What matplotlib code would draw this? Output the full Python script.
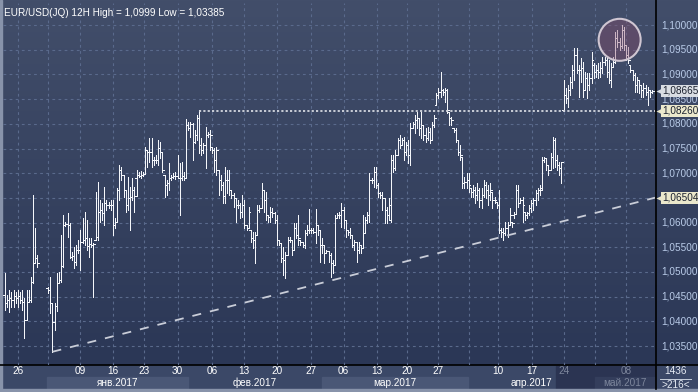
import numpy as np
import matplotlib
matplotlib.use("Agg")
import matplotlib.pyplot as plt
from matplotlib.patches import Rectangle, Ellipse

plt.rcParams['font.family'] = ['Liberation Sans', 'DejaVu Sans']
nan = np.nan

title = "EUR/USD(JQ) 12H High = 1,0999 Low = 1,03385"

opens = [
1.0454,1.0438,1.0444,1.0448,1.0444,1.0452,1.0448,1.0452,1.0444,1.0440,
1.0403,1.0440,1.0444,1.0480,1.0519,1.0529,nan,nan,nan,nan,
1.0468,1.0464,1.0438,1.0399,1.0432,1.0478,1.0484,1.0513,1.0596,1.0598,
1.0596,1.0531,1.0533,1.0521,1.0545,1.0545,1.0561,1.0565,1.0569,1.0553,
1.0557,1.0555,1.0565,1.0571,1.0622,1.0626,1.0620,1.0640,1.0636,1.0636,
1.0636,1.0596,1.0602,1.0666,1.0707,1.0697,1.0666,1.0636,1.0650,1.0652,
1.0666,1.0691,1.0697,1.0695,1.0697,1.0699,1.0747,1.0743,1.0743,1.0727,
1.0727,1.0727,1.0751,1.0743,1.0697,1.0677,1.0681,1.0691,1.0693,1.0695,
1.0695,1.0691,1.0691,1.0695,1.0691,1.0798,1.0792,1.0800,1.0764,1.0778,
1.0812,1.0758,1.0747,1.0758,1.0778,1.0780,1.0754,1.0747,1.0727,1.0707,
1.0687,1.0677,1.0654,1.0687,1.0687,1.0666,1.0656,1.0650,1.0636,1.0636,
1.0622,1.0636,1.0596,1.0590,1.0586,1.0569,1.0565,1.0575,1.0626,1.0630,
1.0666,1.0646,1.0616,1.0612,1.0622,1.0620,1.0606,1.0565,1.0559,1.0529,
1.0525,1.0535,1.0565,1.0565,1.0545,1.0590,1.0575,1.0565,1.0561,1.0555,
1.0579,1.0586,1.0586,1.0586,1.0581,1.0596,1.0586,1.0555,1.0555,1.0539,
1.0543,1.0535,1.0519,1.0515,1.0610,1.0616,1.0616,1.0626,1.0606,1.0586,
1.0581,1.0575,1.0555,1.0561,1.0545,1.0555,1.0549,1.0579,1.0606,1.0616,
1.0687,1.0687,1.0703,1.0677,1.0660,1.0656,1.0650,1.0626,1.0616,1.0606,
1.0727,1.0711,1.0737,1.0768,1.0758,1.0768,1.0743,1.0758,1.0737,1.0792,
1.0800,1.0808,1.0812,1.0792,1.0798,1.0778,1.0772,1.0784,1.0768,1.0798,
1.0838,1.0859,1.0865,1.0869,1.0865,1.0869,1.0824,1.0812,1.0792,1.0788,
1.0768,1.0743,1.0733,1.0681,1.0683,1.0687,1.0670,1.0662,1.0666,1.0656,
1.0666,1.0646,1.0656,1.0677,1.0666,1.0656,1.0662,1.0646,1.0642,1.0636,
1.0586,1.0581,1.0579,1.0590,1.0596,1.0602,1.0616,1.0618,1.0666,1.0640,
1.0646,1.0622,1.0616,1.0620,1.0630,1.0640,1.0646,1.0660,1.0666,1.0666,
1.0727,1.0731,1.0717,1.0707,1.0733,1.0768,1.0727,1.0717,1.0711,1.0828,
1.0859,1.0853,1.0869,1.0885,1.0909,1.0940,1.0909,1.0909,1.0913,1.0869,
1.0893,1.0879,1.0893,1.0919,1.0905,1.0909,1.0905,1.0913,1.0926,1.0930,
1.0905,1.0889,1.0915,1.0926,1.0974,1.0966,1.0958,1.0990,1.0960,1.0940,
1.0919,1.0909,1.0899,1.0879,1.0889,1.0879,1.0869,1.0873,1.0865,1.0869,
1.0865]

highs = [
1.0498,1.0454,1.0464,1.0460,1.0464,1.0460,1.0464,1.0460,1.0464,1.0448,
1.0464,1.0464,1.0490,1.0656,1.0590,1.0535,nan,nan,nan,nan,
1.0470,1.0490,1.0438,1.0438,1.0498,1.0500,1.0575,1.0616,1.0602,1.0620,
1.0600,1.0541,1.0551,1.0555,1.0565,1.0586,1.0610,1.0622,1.0606,1.0569,
1.0569,1.0559,1.0662,1.0683,1.0646,1.0640,1.0673,1.0646,1.0642,1.0645,
1.0646,1.0610,1.0670,1.0717,1.0713,1.0697,1.0666,1.0693,1.0673,1.0691,
1.0673,1.0707,1.0703,1.0705,1.0703,1.0754,1.0747,1.0772,1.0772,1.0733,
1.0737,1.0768,1.0764,1.0743,1.0697,1.0687,1.0721,1.0697,1.0701,1.0702,
1.0737,1.0721,1.0723,1.0703,1.0810,1.0804,1.0804,1.0802,1.0788,1.0818,
1.0828,1.0772,1.0762,1.0794,1.0784,1.0788,1.0754,1.0751,1.0754,1.0707,
1.0697,1.0683,1.0713,1.0707,1.0707,1.0666,1.0660,1.0650,1.0646,1.0640,
1.0656,1.0646,1.0596,1.0632,1.0586,1.0581,1.0581,1.0636,1.0636,1.0681,
1.0666,1.0662,1.0616,1.0632,1.0630,1.0622,1.0616,1.0565,1.0559,1.0551,
1.0541,1.0571,1.0571,1.0565,1.0600,1.0600,1.0616,1.0565,1.0561,1.0586,
1.0596,1.0628,1.0590,1.0590,1.0628,1.0596,1.0586,1.0569,1.0555,1.0545,
1.0543,1.0539,1.0525,1.0616,1.0620,1.0622,1.0640,1.0632,1.0606,1.0586,
1.0590,1.0575,1.0565,1.0561,1.0561,1.0555,1.0616,1.0612,1.0622,1.0701,
1.0691,1.0713,1.0713,1.0681,1.0662,1.0662,1.0650,1.0632,1.0650,1.0737,
1.0737,1.0747,1.0772,1.0778,1.0772,1.0774,1.0764,1.0768,1.0802,1.0804,
1.0818,1.0824,1.0812,1.0824,1.0798,1.0792,1.0794,1.0792,1.0804,1.0818,
1.0863,1.0873,1.0905,1.0871,1.0873,1.0871,1.0824,1.0814,1.0792,1.0792,
1.0768,1.0758,1.0733,1.0693,1.0701,1.0701,1.0670,1.0677,1.0673,1.0681,
1.0670,1.0670,1.0687,1.0683,1.0677,1.0681,1.0662,1.0652,1.0642,1.0666,
1.0590,1.0590,1.0602,1.0602,1.0630,1.0602,1.0622,1.0677,1.0677,1.0650,
1.0652,1.0622,1.0622,1.0636,1.0646,1.0650,1.0666,1.0670,1.0677,1.0733,
1.0733,1.0731,1.0717,1.0741,1.0774,1.0772,1.0737,1.0723,1.0723,1.0889,
1.0873,1.0879,1.0895,1.0919,1.0954,1.0954,1.0919,1.0934,1.0926,1.0905,
1.0903,1.0903,1.0946,1.0924,1.0919,1.0924,1.0926,1.0936,1.0936,1.0934,
1.0930,1.0924,1.0936,1.0986,1.0990,1.0974,1.0999,1.0996,1.0960,1.0956,
1.0919,1.0909,1.0903,1.0895,1.0889,1.0879,1.0883,1.0879,1.0875,1.0869,
1.0869]

lows = [
1.0424,1.0430,1.0420,1.0430,1.0430,1.0438,1.0430,1.0438,1.0424,1.0367,
1.0403,1.0440,1.0440,1.0478,1.0519,1.0511,nan,nan,nan,nan,
1.0458,1.0418,1.03385,1.0383,1.0422,1.0478,1.0480,1.0511,1.0594,1.0571,
1.0529,1.0525,1.0509,1.0515,1.0538,1.0505,1.0559,1.0555,1.0545,1.0531,
1.0551,1.0450,1.0565,1.0565,1.0602,1.0606,1.0596,1.0626,1.0630,1.0625,
1.0575,1.0590,1.0602,1.0646,1.0687,1.0652,1.0622,1.0626,1.0586,1.0646,
1.0622,1.0654,1.0693,1.0690,1.0695,1.0699,1.0713,1.0723,1.0713,1.0717,
1.0721,1.0717,1.0731,1.0703,1.0652,1.0656,1.0666,1.0687,1.0691,1.0688,
1.0691,1.0616,1.0687,1.0687,1.0691,1.0788,1.0774,1.0727,1.0762,1.0768,
1.0741,1.0737,1.0741,1.0711,1.0774,1.0747,1.0741,1.0703,1.0697,1.0656,
1.0666,1.0640,1.0640,1.0660,1.0656,1.0650,1.0632,1.0602,1.0630,1.0610,
1.0612,1.0590,1.0586,1.0590,1.0561,1.0549,1.0519,1.0575,1.0622,1.0630,
1.0622,1.0606,1.0602,1.0602,1.0612,1.0600,1.0555,1.0555,1.0521,1.0494,
1.0488,1.0535,1.0561,1.0535,1.0545,1.0569,1.0555,1.0555,1.0551,1.0549,
1.0575,1.0579,1.0579,1.0579,1.0559,1.0575,1.0521,1.0539,1.0519,1.0539,
1.0521,1.0490,1.0498,1.0515,1.0610,1.0610,1.0592,1.0590,1.0571,1.0575,
1.0569,1.0551,1.0545,1.0521,1.0539,1.0539,1.0549,1.0579,1.0600,1.0602,
1.0681,1.0673,1.0670,1.0652,1.0650,1.0626,1.0600,1.0600,1.0606,1.0602,
1.0703,1.0707,1.0737,1.0751,1.0758,1.0727,1.0737,1.0721,1.0717,1.0792,
1.0782,1.0792,1.0778,1.0772,1.0768,1.0764,1.0768,1.0762,1.0768,1.0794,
1.0838,1.0853,1.0855,1.0859,1.0845,1.0822,1.0798,1.0798,1.0784,1.0764,
1.0737,1.0727,1.0670,1.0670,1.0670,1.0662,1.0652,1.0652,1.0640,1.0646,
1.0632,1.0630,1.0652,1.0650,1.0636,1.0646,1.0630,1.0640,1.0630,1.0579,
1.0571,1.0565,1.0575,1.0571,1.0596,1.0592,1.0610,1.0618,1.0632,1.0640,
1.0602,1.0606,1.0610,1.0616,1.0622,1.0626,1.0636,1.0646,1.0656,1.0666,
1.0723,1.0707,1.0697,1.0707,1.0711,1.0713,1.0707,1.0697,1.0681,1.0826,
1.0843,1.0834,1.0859,1.0873,1.0889,1.0903,1.0855,1.0885,1.0855,1.0869,
1.0853,1.0869,1.0883,1.0893,1.0895,1.0893,1.0895,1.0903,1.0919,1.0895,
1.0883,1.0875,1.0915,1.0924,1.0956,1.0950,1.0954,1.0950,1.0930,1.0924,
1.0905,1.0889,1.0865,1.0865,1.0863,1.0855,1.0855,1.0859,1.0838,1.0855,
1.0863]

closes = [
1.0438,1.0444,1.0448,1.0444,1.0452,1.0448,1.0452,1.0444,1.0440,1.0403,
1.0440,1.0444,1.0480,1.0519,1.0529,1.0519,nan,nan,nan,nan,
1.0464,1.0438,1.0399,1.0432,1.0478,1.0484,1.0513,1.0596,1.0598,1.0596,
1.0531,1.0533,1.0521,1.0545,1.0545,1.0561,1.0565,1.0569,1.0553,1.0557,
1.0555,1.0557,1.0571,1.0622,1.0626,1.0620,1.0640,1.0636,1.0636,1.0636,
1.0596,1.0602,1.0666,1.0707,1.0697,1.0666,1.0636,1.0650,1.0652,1.0666,
1.0654,1.0697,1.0695,1.0697,1.0699,1.0747,1.0743,1.0743,1.0727,1.0727,
1.0727,1.0751,1.0743,1.0707,1.0677,1.0681,1.0691,1.0693,1.0695,1.0695,
1.0691,1.0691,1.0695,1.0691,1.0798,1.0792,1.0800,1.0764,1.0778,1.0812,
1.0758,1.0747,1.0758,1.0778,1.0780,1.0778,1.0747,1.0727,1.0747,1.0687,
1.0677,1.0654,1.0687,1.0687,1.0666,1.0656,1.0650,1.0636,1.0636,1.0622,
1.0636,1.0596,1.0590,1.0622,1.0569,1.0565,1.0575,1.0626,1.0630,1.0666,
1.0646,1.0616,1.0612,1.0622,1.0620,1.0606,1.0565,1.0559,1.0529,1.0525,
1.0535,1.0565,1.0565,1.0545,1.0590,1.0575,1.0569,1.0561,1.0555,1.0579,
1.0586,1.0586,1.0586,1.0581,1.0596,1.0586,1.0555,1.0555,1.0539,1.0543,
1.0535,1.0519,1.0515,1.0610,1.0616,1.0616,1.0626,1.0606,1.0586,1.0581,
1.0575,1.0555,1.0561,1.0545,1.0555,1.0549,1.0579,1.0606,1.0616,1.0687,
1.0687,1.0703,1.0677,1.0660,1.0656,1.0650,1.0626,1.0616,1.0636,1.0727,
1.0711,1.0737,1.0768,1.0758,1.0768,1.0743,1.0758,1.0737,1.0792,1.0800,
1.0808,1.0812,1.0792,1.0798,1.0778,1.0772,1.0784,1.0768,1.0798,1.0812,
1.0859,1.0865,1.0869,1.0865,1.0869,1.0828,1.0812,1.0808,1.0788,1.0768,
1.0743,1.0737,1.0681,1.0683,1.0687,1.0677,1.0662,1.0666,1.0656,1.0666,
1.0646,1.0656,1.0677,1.0666,1.0656,1.0666,1.0646,1.0646,1.0636,1.0586,
1.0581,1.0579,1.0590,1.0596,1.0616,1.0600,1.0618,1.0666,1.0640,1.0646,
1.0636,1.0616,1.0620,1.0630,1.0640,1.0646,1.0660,1.0666,1.0670,1.0727,
1.0731,1.0717,1.0707,1.0733,1.0768,1.0727,1.0717,1.0711,1.0723,1.0859,
1.0853,1.0869,1.0885,1.0909,1.0940,1.0909,1.0909,1.0913,1.0869,1.0893,
1.0879,1.0893,1.0930,1.0905,1.0909,1.0905,1.0913,1.0926,1.0930,1.0905,
1.0889,1.0915,1.0926,1.0974,1.0966,1.0958,1.0990,1.0960,1.0940,1.0930,
1.0909,1.0899,1.0879,1.0889,1.0879,1.0869,1.0873,1.0865,1.0869,1.0865,
1.08665]

week_start_idx = [6, 20, 35, 50, 64.5, 80, 96, 111, 126, 142, 157, 172.5, 186.5, 201, 215, 228.5, 244.5, 259, 273.5, 288]
week_labels = ['26', '', '09', '16', '23', '30', '06', '13', '20', '27', '06', '13', '20', '27', '', '10', '17', '24', '', '08']
month_names = ['янв.2017', 'фев.2017', 'мар.2017', 'апр.2017', 'май.2017']
month_bounds = [19.5, 85, 147, 214.7, 273.6, 320]

price_ticks = [1.035, 1.040, 1.045, 1.050, 1.055, 1.060, 1.065, 1.070, 1.075, 1.080, 1.085, 1.090, 1.095, 1.100]

last_price = 1.08665
level_price = 1.08260
trend_price = 1.06504
trend_from_idx = 22
level_from_idx = 90
circle_idx, circle_price = 285, 1.0970

W, H = 698, 392
fig = plt.figure(figsize=(W / 100, H / 100), dpi=100)

def fr(x0, y0, x1, y1):
    return [x0 / W, 1 - y1 / H, (x1 - x0) / W, (y1 - y0) / H]

bg = fig.add_axes([0, 0, 1, 1])
bg.set_xlim(0, W); bg.set_ylim(H, 0); bg.axis('off')
grad = np.linspace(0, 1, 256)[:, None]
top = np.array([66, 78, 106]) / 255
bot = np.array([43, 55, 86]) / 255
img = top[None, None, :] * (1 - grad[:, :, None]) + bot[None, None, :] * grad[:, :, None]
bg.imshow(img, extent=[0, W, 365, 0], aspect='auto', zorder=0)
bg.add_patch(Rectangle((0, 365), W, 27, color='#3b4867', zorder=1))
bg.add_patch(Rectangle((0, 389), W, 3, color='#8893aa', zorder=3))
bg.add_patch(Rectangle((0, 0), 2, H, color='#8893aa', zorder=3))

N = len(closes)
assert len(opens) == N and len(highs) == N and len(lows) == N
x = np.arange(N)
px0 = 5.0
dx = 647.0 / (N - 1)
xl = (3 - px0) / dx
xr = (655 - px0) / dx
ylo = 1.10 - (365 - 25) / 4940.0
yhi = 1.10 + (25 - 3) / 4940.0

ax = fig.add_axes(fr(3, 3, 655, 365))
ax.set_facecolor('none')
ax.set_xlim(xl, xr)
ax.set_ylim(ylo, yhi)
for s in ax.spines.values():
    s.set_visible(False)
ax.set_xticks([]); ax.set_yticks([])

gc = '#5a6a8c'
for p in price_ticks:
    ax.axhline(p, color=gc, lw=0.8, ls=(0, (2.5, 3)), zorder=1)
for w in week_start_idx:
    ax.axvline(w, color=gc, lw=0.8, ls=(0, (2.5, 3)), zorder=1)

bar_kw = dict(color='#f4f6fa', lw=0.6, zorder=3, antialiased=False, snap=True)
ax.vlines(x, lows, highs, **bar_kw)
ax.hlines(opens, x - 0.8, x, **bar_kw)
ax.hlines(closes, x, x + 0.8, **bar_kw)

ax.plot([trend_from_idx, xr], [lows[trend_from_idx], trend_price], color='#c9cdd8', lw=1.3,
        ls=(0, (5, 5)), zorder=4)
ax.plot([level_from_idx, xr], [level_price, level_price], color='#d4d8e0', lw=1.3,
        ls=(0, (1.2, 1.2)), zorder=4)

ax.add_patch(Ellipse((circle_idx, circle_price), 42 / dx, 42 / 4940.0,
                     facecolor=(0.55, 0.30, 0.42, 0.38), edgecolor='#cfc6d2', lw=1.5, zorder=6))

ax.text(1 / 652, 0.985, title, transform=ax.transAxes, color='white', fontsize=7.2,
        ha='left', va='top', zorder=7)

ytr = ax.get_yaxis_transform()
for p in price_ticks:
    lab = f"{p:.5f}".replace('.', ',')
    ax.text((661 - 3) / 652, p, lab, transform=ytr, color='#b9cbe8', fontsize=7.2,
            ha='left', va='center', clip_on=False)

def tag(p, fc, txt_c='#1c2230'):
    ax.text((662 - 3) / 652, p, f"{p:.5f}".replace('.', ','), transform=ytr, color=txt_c,
            fontsize=7.2, ha='left', va='center', zorder=9, clip_on=False,
            bbox=dict(boxstyle='square,pad=0.12', fc=fc, ec='none'))
    ax.plot([(658.5 - 3) / 652], [p], marker='<', ms=5, color=fc, transform=ytr,
            clip_on=False, zorder=9, mec='none')

tag(last_price, '#d9dde3')
tag(level_price, '#ebe8cc')
tag(trend_price, '#ebe8cc')

bg.plot([655.5, 655.5], [0, 389], color='black', lw=1.2, zorder=5)
bg.plot([0, W], [365, 365], color='black', lw=1.2, zorder=5)

light = '#4a5776'
def ipx(i):
    return px0 + i * dx
band_cols = [light, None, light, None, None]
for k, name in enumerate(month_names):
    a, b = ipx(month_bounds[k]), min(ipx(month_bounds[k + 1]), 655)
    if band_cols[k]:
        bg.add_patch(Rectangle((a, 377), b - a, 11.5, color=band_cols[k], zorder=2))
dark_a = 556
bg.add_patch(Rectangle((dark_a, 366), 655 - dark_a, 23, color='#2b3452', zorder=2.2))
bg.add_patch(Rectangle((ipx(month_bounds[4]), 377), 655 - ipx(month_bounds[4]), 11.5,
                       color='#343e5c', zorder=2.3))
for k, name in enumerate(month_names):
    a, b = ipx(month_bounds[k]), min(ipx(month_bounds[k + 1]), 655)
    col = '#7d869c' if k == 4 else 'white'
    bg.text((a + b) / 2, 383, name, color=col, fontsize=7.2, ha='center', va='center', zorder=4)
for w, lab in zip(week_start_idx, week_labels):
    if lab:
        xp = ipx(w)
        col = '#7d869c' if xp > dark_a else 'white'
        bg.text(xp, 371.5, lab, color=col, fontsize=7.2, ha='center', va='center', zorder=4)

bg.text(676, 371.5, '1436', color='#e6ebf3', fontsize=7.2, ha='center', va='center', zorder=4)
bg.plot([660, 691], [378.5, 378.5], color='#c8d0dc', lw=0.7, zorder=4)
bg.text(676, 384.5, '>216<', color='#e6ebf3', fontsize=7.2, ha='center', va='center', zorder=4)

fig.savefig('out.png', dpi=100, facecolor=fig.get_facecolor())
